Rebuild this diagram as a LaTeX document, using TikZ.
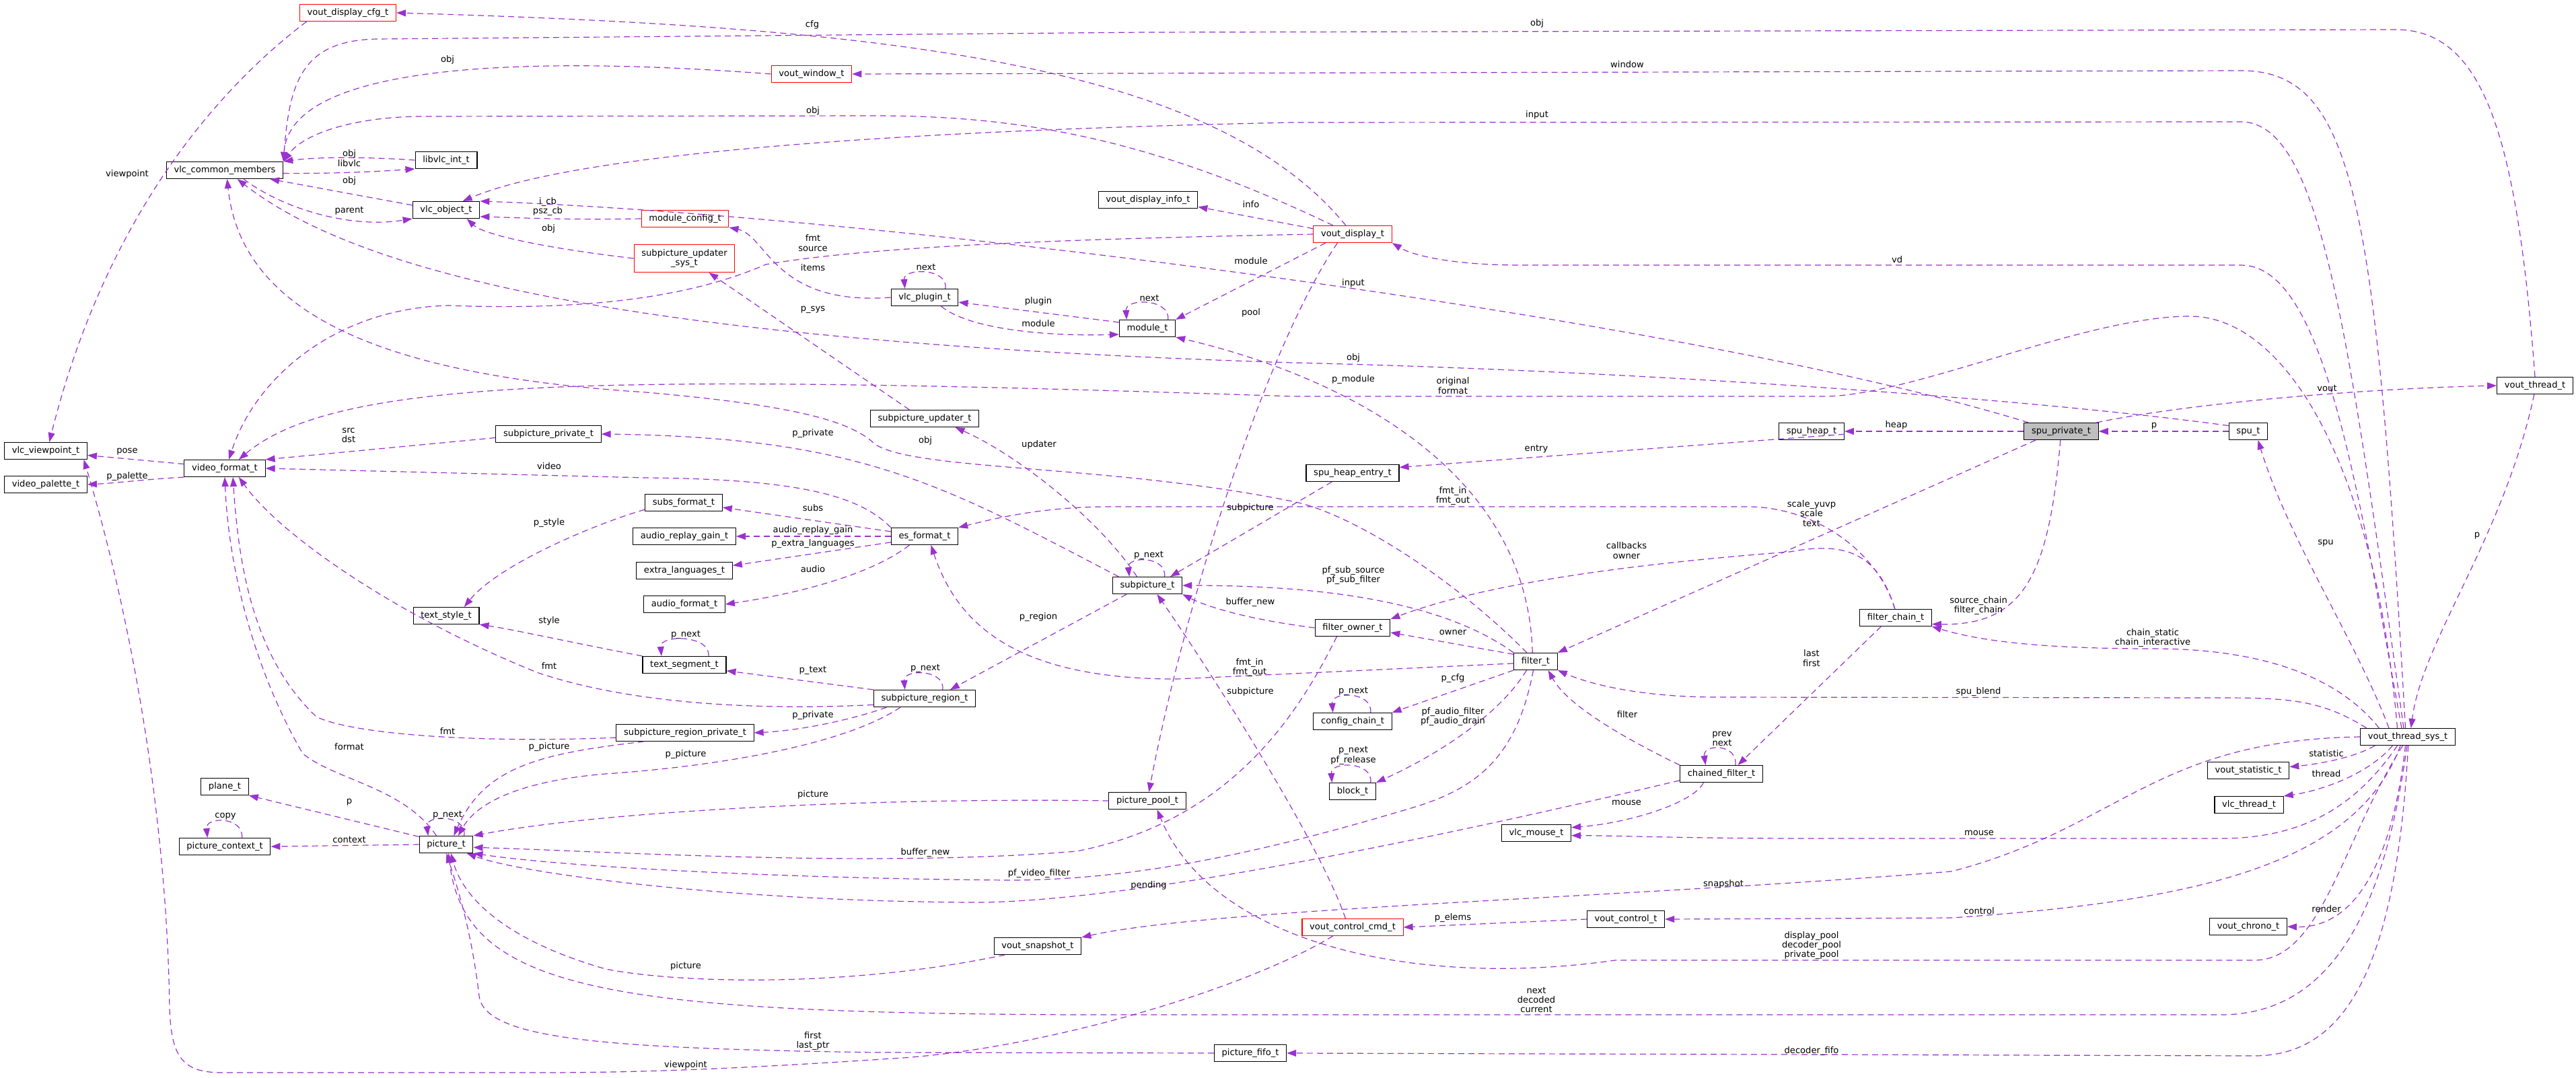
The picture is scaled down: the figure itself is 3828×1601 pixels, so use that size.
\documentclass[tikz,border=0pt]{standalone}
\usepackage{fontspec}
\setmainfont{DejaVu Sans}
\usetikzlibrary{arrows.meta}
\definecolor{dox-purple}{HTML}{9A32CD}
\definecolor{dox-grey}{HTML}{BFBFBF}
\newcommand{\doxfont}{\fontsize{6.55pt}{7.2pt}\selectfont}
\tikzset{
  dox-class/.style={draw=black, fill=white, line width=0.55pt, inner xsep=5.6pt, inner ysep=0pt,
    minimum height=12.5pt, align=center, font=\doxfont},
  dox-missing/.style={dox-class, draw=red},
  dox-focus/.style={dox-class, fill=dox-grey},
  dox-use/.style={draw=dox-purple, line width=0.6pt, dash pattern=on 4.5pt off 3pt,
    -{Triangle[length=7pt, width=5pt]}},
  dox-label/.style={font=\doxfont, align=center, inner sep=0pt}
}

\begin{document}
\begin{tikzpicture}[x=0.5pt, y=-0.5pt]
  \useasboundingbox (0,0) rectangle (3828,1601);

  % --- Classes ---
  \node[dox-missing] (vdcfg) at (517,19) {vout\_display\_cfg\_t};
  \node[dox-missing] (vwin) at (1206,110) {vout\_window\_t};
  \node[dox-class] (vcm) at (334,253) {vlc\_common\_members};
  \node[dox-class] (libvlc) at (663,238) {libvlc\_int\_t};
  \node[dox-class] (vobj) at (663,312) {vlc\_object\_t};
  \node[dox-missing] (mcfg) at (1018,325) {module\_config\_t};
  \node[dox-missing, minimum height=20.5pt] (upsys) at (1017,384) {subpicture\_updater\\\_sys\_t};
  \node[dox-class] (vdinfo) at (1706,297) {vout\_display\_info\_t};
  \node[dox-missing] (vdisp) at (2010,348) {vout\_display\_t};
  \node[dox-class] (plugin) at (1374,442) {vlc\_plugin\_t};
  \node[dox-class] (module) at (1705,488) {module\_t};
  \node[dox-class] (updater) at (1374,622) {subpicture\_updater\_t};
  \node[dox-class] (viewpt) at (68,670) {vlc\_viewpoint\_t};
  \node[dox-class] (palette) at (68,720) {video\_palette\_t};
  \node[dox-class] (vfmt) at (334,696) {video\_format\_t};
  \node[dox-class] (sppriv) at (815,645) {subpicture\_private\_t};
  \node[dox-class] (heap) at (2692,641) {spu\_heap\_t};
  \node[dox-focus] (spupriv) at (3063,641) {spu\_private\_t};
  \node[dox-class] (spu) at (3341,641) {spu\_t};
  \node[dox-class] (vthread) at (3767,573) {vout\_thread\_t};
  \node[dox-class] (heapent) at (2010,703) {spu\_heap\_entry\_t};
  \node[dox-class] (subsfmt) at (1016,747) {subs\_format\_t};
  \node[dox-class] (gain) at (1017,797) {audio\_replay\_gain\_t};
  \node[dox-class] (esfmt) at (1374,797) {es\_format\_t};
  \node[dox-class] (extra) at (1017,848) {extra\_languages\_t};
  \node[dox-class] (afmt) at (1017,898) {audio\_format\_t};
  \node[dox-class] (subpic) at (1705,870) {subpicture\_t};
  \node[dox-class] (tstyle) at (663,915) {text\_style\_t};
  \node[dox-class] (fchain) at (2817,918) {filter\_chain\_t};
  \node[dox-class] (fowner) at (2010,933) {filter\_owner\_t};
  \node[dox-class] (filter) at (2282,983) {filter\_t};
  \node[dox-class] (tseg) at (1017,988) {text\_segment\_t};
  \node[dox-class] (region) at (1374,1038) {subpicture\_region\_t};
  \node[dox-class] (regpriv) at (1018,1089) {subpicture\_region\_private\_t};
  \node[dox-class] (cchain) at (2010,1072) {config\_chain\_t};
  \node[dox-class] (plane) at (334,1169) {plane\_t};
  \node[dox-class] (block) at (2010,1176) {block\_t};
  \node[dox-class] (chained) at (2558,1150) {chained\_filter\_t};
  \node[dox-class] (vtsys) at (3578,1095) {vout\_thread\_sys\_t};
  \node[dox-class] (stat) at (3341,1145) {vout\_statistic\_t};
  \node[dox-class] (thr) at (3342,1196) {vlc\_thread\_t};
  \node[dox-class] (pctx) at (334,1258) {picture\_context\_t};
  \node[dox-class] (pic) at (663,1255) {picture\_t};
  \node[dox-class] (pool) at (1705,1190) {picture\_pool\_t};
  \node[dox-class] (mouse) at (2283,1238) {vlc\_mouse\_t};
  \node[dox-class] (vctl) at (2416,1366) {vout\_control\_t};
  \node[dox-missing] (vcmd) at (2010,1378) {vout\_control\_cmd\_t};
  \node[dox-class] (snap) at (1542,1406) {vout\_snapshot\_t};
  \node[dox-class] (chrono) at (3341,1377) {vout\_chrono\_t};
  \node[dox-class] (fifo) at (1858,1565) {picture\_fifo\_t};

  % --- vout_display_t ---
  \draw[dox-use] (vdisp.128) .. controls (1800,90) and (1300,40) .. (vdcfg.east);
  \draw[dox-use] (vdisp.156) .. controls (1700,200) and (1500,172) .. (1300,172) -- (620,173) .. controls (520,175) and (450,200) .. (vcm.north east);
  \draw[dox-use] (vdisp.172) -- (vdinfo.-8);
  \draw[dox-use] (vdisp.west) .. controls (1600,355) and (1300,365) .. (1138,393) .. controls (1030,440) and (880,462) .. (667,454) .. controls (500,458) and (380,560) .. (vfmt.65);
  \draw[dox-use] (vdisp.-162) -- (module.north east);
  \draw[dox-use] (vdisp.-150) .. controls (1880,520) and (1760,900) .. (pool.80);

  % --- vout_window_t, vout_thread_t ---
  \draw[dox-use] (vwin.west) .. controls (750,80) and (430,100) .. (vcm.north east);
  \draw[dox-use] (vthread.north) .. controls (3740,200) and (3690,44) .. (3560,44) -- (1700,48) -- (560,58) .. controls (450,60) and (430,120) .. (vcm.north east);
  \draw[dox-use] (vthread.-95) .. controls (3720,800) and (3600,950) .. (vtsys.70);

  % --- vlc_common_members, vlc_object_t ---
  \draw[dox-use] (libvlc.west) .. controls (560,234) and (480,232) .. (vcm.north east);
  \draw[dox-use] (vcm.-3) .. controls (500,258) and (560,255) .. (libvlc.south west);
  \draw[dox-use] (vobj.172) -- (vcm.-11);
  \draw[dox-use] (vcm.-25) .. controls (420,310) and (520,340) .. (vobj.south west);
  \draw[dox-use] (mcfg.west) .. controls (850,327) and (780,324) .. (vobj.-11);
  \draw[dox-use] (upsys.west) .. controls (820,370) and (720,350) .. (vobj.-23);
  \draw[dox-use] (vdcfg.-168) .. controls (300,150) and (150,350) .. (viewpt.68);

  % --- vlc_plugin_t, module_t ---
  \draw[dox-use] (plugin.west) .. controls (1150,455) and (1140,350) .. (mcfg.south east);
  \draw[dox-use] (plugin.23) .. controls (1410,398) and (1342,398) .. (plugin.156);
  \draw[dox-use] (module.23) .. controls (1739,443) and (1672,443) .. (module.157);
  \draw[dox-use] (module.168) -- (plugin.-8);
  \draw[dox-use] (plugin.-28) .. controls (1440,490) and (1560,500) .. (module.-168);

  % --- subpicture_t ---
  \draw[dox-use] (updater.150) -- (upsys.-30);
  \draw[dox-use] (subpic.163) .. controls (1400,720) and (1280,650) .. (sppriv.east);
  \draw[dox-use] (sppriv.-176) -- (vfmt.north east);
  \draw[dox-use] (subpic.140) .. controls (1640,780) and (1520,680) .. (updater.-16);
  \draw[dox-use] (subpic.-157) -- (region.19);
  \draw[dox-use] (subpic.27) .. controls (1734,826) and (1675,826) .. (subpic.154);
  \draw[dox-use] (heapent.-157) -- (subpic.21);

  % --- video_format_t ---
  \draw[dox-use] (vfmt.174) -- (viewpt.-6);
  \draw[dox-use] (vfmt.south west) .. controls (220,712) and (170,718) .. (palette.east);

  % --- es_format_t ---
  \draw[dox-use] (esfmt.north west) .. controls (1280,740) and (1200,712) .. (960,710) -- (vfmt.east);
  \draw[dox-use] (subsfmt.-170) .. controls (880,780) and (740,840) .. (tstyle.26);
  \draw[dox-use] (esfmt.172) -- (subsfmt.-7);
  \draw[dox-use] (esfmt.west) -- (gain.east);
  \draw[dox-use] (esfmt.-170) -- (extra.6);
  \draw[dox-use] (esfmt.-150) .. controls (1300,850) and (1200,880) .. (afmt.east);

  % --- text and regions ---
  \draw[dox-use] (tseg.20) .. controls (1056,943) and (980,943) .. (tseg.159);
  \draw[dox-use] (tseg.north west) .. controls (850,955) and (760,935) .. (tstyle.south east);
  \draw[dox-use] (region.north west) -- (tseg.-8);
  \draw[dox-use] (region.26) .. controls (1405,994) and (1342,994) .. (region.156);
  \draw[dox-use] (region.-173) .. controls (1150,1055) and (950,1050) .. (800,1000) .. controls (600,920) and (420,800) .. (vfmt.-32);
  \draw[dox-use] (regpriv.-176) .. controls (700,1105) and (520,1090) .. (470,1065) .. controls (380,980) and (355,850) .. (vfmt.-47);
  \draw[dox-use] (regpriv.-168) .. controls (800,1120) and (720,1140) .. (pic.49);
  \draw[dox-use] (region.-167) .. controls (1280,1065) and (1200,1085) .. (regpriv.east);
  \draw[dox-use] (region.-160) .. controls (1250,1110) and (1050,1140) .. (900,1150) .. controls (780,1160) and (710,1190) .. (pic.36);

  % --- picture_t ---
  \draw[dox-use] (pic.138) .. controls (600,1170) and (500,1160) .. (450,1120) .. controls (380,1000) and (340,850) .. (vfmt.-90);
  \draw[dox-use] (pic.164) -- (plane.south east);
  \draw[dox-use] (pic.26) .. controls (694,1210) and (632,1210) .. (pic.154);
  \draw[dox-use] (pctx.27) .. controls (362,1213) and (305,1213) .. (pctx.153);
  \draw[dox-use] (pic.west) -- (pctx.east);
  \draw[dox-use] (pool.west) .. controls (1300,1185) and (900,1205) .. (pic.north east);
  \draw[dox-use] (snap.-165) .. controls (1250,1470) and (1000,1460) .. (900,1440) .. controls (760,1400) and (690,1340) .. (pic.-62);
  \draw[dox-use] (fifo.west) -- (1300,1564) .. controls (900,1558) and (720,1545) .. (712,1480) .. controls (700,1380) and (680,1320) .. (pic.-88);

  % --- spu_private_t, spu_t ---
  \draw[dox-use] (spupriv.165) .. controls (2500,470) and (1300,320) .. (vobj.north east);
  \draw[dox-use] (spu.164) .. controls (3000,590) and (2400,550) .. (1920,539) .. controls (1000,510) and (550,420) .. (vcm.-35);
  \draw[dox-use] (spupriv.west) -- (heap.east);
  \draw[dox-use] (spu.west) -- (spupriv.east);
  \draw[dox-use] (spupriv.14) .. controls (3250,600) and (3500,578) .. (vthread.west);
  \draw[dox-use] (spupriv.-161) -- (filter.north east);
  \draw[dox-use] (spupriv.-95) .. controls (3045,850) and (3010,930) .. (fchain.-10);
  \draw[dox-use] (heap.-5) -- (heapent.7);

  % --- filter_t, filter_chain_t ---
  \draw[dox-use] (filter.110) .. controls (2270,700) and (2000,560) .. (module.south east);
  \draw[dox-use] (filter.135) .. controls (2150,850) and (2000,760) .. (1920,745) .. controls (1650,690) and (1360,700) .. (1300,660) .. controls (1260,620) and (1150,600) .. (960,583) .. controls (600,560) and (360,480) .. (vcm.-75);
  \draw[dox-use] (fchain.95) .. controls (2790,820) and (2700,755) .. (2600,753) -- (1650,753) .. controls (1550,753) and (1480,770) .. (esfmt.north east);
  \draw[dox-use] (filter.-175) -- (1750,1009) .. controls (1500,1010) and (1420,920) .. (esfmt.-54);
  \draw[dox-use] (fchain.95) .. controls (2790,820) and (2740,805) .. (2660,820) .. controls (2400,840) and (2200,870) .. (fowner.north east);
  \draw[dox-use] (filter.north west) .. controls (2180,920) and (2050,870) .. (subpic.east);
  \draw[dox-use] (filter.162) -- (fowner.-7);
  \draw[dox-use] (fowner.west) .. controls (1850,920) and (1790,900) .. (subpic.south east);
  \draw[dox-use] (vcmd.129) .. controls (1960,1250) and (1800,1000) .. (subpic.-42);
  \draw[dox-use] (filter.south west) -- (cchain.north east);
  \draw[dox-use] (cchain.26) .. controls (2040,1027) and (1978,1027) .. (cchain.156);
  \draw[dox-use] (fchain.-149) -- (chained.28);
  \draw[dox-use] (filter.-136) .. controls (2230,1060) and (2140,1120) .. (block.north east);
  \draw[dox-use] (chained.north west) .. controls (2420,1100) and (2330,1050) .. (filter.-35);
  \draw[dox-use] (chained.32) .. controls (2583,1105) and (2530,1105) .. (chained.151);
  \draw[dox-use] (block.26) .. controls (2041,1131) and (1977,1131) .. (block.157);
  \draw[dox-use] (fowner.-151) .. controls (1930,1060) and (1830,1220) .. (1600,1265) .. controls (1300,1290) and (900,1265) .. (pic.-6);
  \draw[dox-use] (filter.-105) .. controls (2255,1120) and (2200,1170) .. (2100,1200) .. controls (1900,1260) and (1700,1308) .. (1500,1308) .. controls (1200,1306) and (850,1290) .. (pic.south east);
  \draw[dox-use] (chained.-171) .. controls (2200,1230) and (1700,1340) .. (1450,1341) .. controls (1100,1340) and (780,1300) .. (pic.-23);
  \draw[dox-use] (chained.-154) .. controls (2520,1190) and (2430,1222) .. (mouse.9);
  \draw[dox-use] (vctl.west) -- (vcmd.east);
  \draw[dox-use] (vcmd.-156) .. controls (1850,1470) and (1550,1560) .. (1327,1573) .. controls (1100,1588) and (960,1594) .. (800,1594) -- (330,1594) .. controls (270,1594) and (255,1570) .. (252,1500) .. controls (248,1200) and (190,900) .. (viewpt.-13);

  % --- vout_thread_sys_t ---
  \draw[dox-use] (vtsys.105) .. controls (3530,300) and (3500,105) .. (3330,105) -- (vwin.east);
  \draw[dox-use] (vtsys.115) .. controls (3490,500) and (3450,181) .. (3330,181) -- (1920,182) .. controls (1300,195) and (850,230) .. (vobj.28);
  \draw[dox-use] (vtsys.125) .. controls (3500,700) and (3450,394) .. (3330,394) -- (2260,394) .. controls (2160,394) and (2100,380) .. (vdisp.south east);
  \draw[dox-use] (vtsys.140) .. controls (3530,700) and (3400,470) .. (3254,470) .. controls (3100,470) and (2850,585) .. (2716,589) -- (1920,589) .. controls (900,555) and (500,560) .. (vfmt.32);
  \draw[dox-use] (vtsys.155) .. controls (3500,950) and (3400,800) .. (spu.-42);
  \draw[dox-use] (vtsys.168) .. controls (3450,1040) and (3400,1037) .. (3300,1037) -- (2550,1036) .. controls (2450,1036) and (2370,1020) .. (filter.south east);
  \draw[dox-use] (vtsys.163) .. controls (3470,1000) and (3350,964) .. (3200,964) .. controls (3050,964) and (2950,955) .. (fchain.south east);
  \draw[dox-use] (vtsys.west) .. controls (3200,1100) and (3150,1230) .. (2900,1295) .. controls (2400,1335) and (1800,1350) .. (snap.north east);
  \draw[dox-use] (vtsys.-130) .. controls (3500,1290) and (3250,1340) .. (2900,1364) -- (vctl.east);
  \draw[dox-use] (vtsys.-120) .. controls (3480,1250) and (3450,1427) .. (3350,1427) -- (2400,1427) .. controls (2100,1470) and (1800,1400) .. (pool.-42);
  \draw[dox-use] (vtsys.-95) .. controls (3540,1380) and (3450,1508) .. (3300,1508) -- (1600,1508) .. controls (900,1505) and (690,1470) .. (pic.-75);
  \draw[dox-use] (vtsys.-87) .. controls (3560,1450) and (3480,1569) .. (3350,1569) -- (fifo.east);
  \draw[dox-use] (vtsys.-140) .. controls (3500,1200) and (3420,1246) .. (3300,1246) -- (2700,1246) .. controls (2500,1246) and (2420,1242) .. (mouse.-4);
  \draw[dox-use] (vtsys.-165) .. controls (3500,1125) and (3450,1135) .. (stat.5);
  \draw[dox-use] (vtsys.-150) .. controls (3520,1150) and (3450,1175) .. (thr.north east);
  \draw[dox-use] (vtsys.-105) .. controls (3555,1280) and (3500,1380) .. (chrono.east);

  % --- Edge labels ---
  \node[dox-label] (l-cfg) at (1207,37) {cfg};
  \node[dox-label] (l-winobj) at (665,89) {obj};
  \node[dox-label] (l-threadobj) at (2284,35) {obj};
  \node[dox-label] (l-window) at (2418,96) {window};
  \node[dox-label] (l-dispobj) at (1208,165) {obj};
  \node[dox-label] (l-sysinput) at (2284,171) {input};
  \node[dox-label] (l-libvlc) at (519,235) {obj\\libvlc};
  \node[dox-label] (l-objobj) at (519,269) {obj};
  \node[dox-label] (l-parent) at (519,313) {parent};
  \node[dox-label] (l-icb) at (814,307) {i\_cb\\psz\_cb};
  \node[dox-label] (l-upsysobj) at (815,340) {obj};
  \node[dox-label] (l-cfgview) at (189,259) {viewpoint};
  \node[dox-label] (l-info) at (1859,304) {info};
  \node[dox-label] (l-fmtsrc) at (1208,361) {fmt\\source};
  \node[dox-label] (l-items) at (1208,398) {items};
  \node[dox-label] (l-plugnext) at (1376,397) {next};
  \node[dox-label] (l-dispmod) at (1859,388) {module};
  \node[dox-label] (l-psys) at (1208,460) {p\_sys};
  \node[dox-label] (l-modnext) at (1708,443) {next};
  \node[dox-label] (l-plugin) at (1543,448) {plugin};
  \node[dox-label] (l-plugmod) at (1543,481) {module};
  \node[dox-label] (l-pool) at (1859,465) {pool};
  \node[dox-label] (l-privinput) at (2011,421) {input};
  \node[dox-label] (l-spuobj) at (2011,532) {obj};
  \node[dox-label] (l-vd) at (2819,386) {vd};
  \node[dox-label] (l-pmodule) at (2011,564) {p\_module};
  \node[dox-label] (l-original) at (2159,573) {original\\format};
  \node[dox-label] (l-heap) at (2818,632) {heap};
  \node[dox-label] (l-spup) at (3201,633) {p};
  \node[dox-label] (l-vout) at (3458,577) {vout};
  \node[dox-label] (l-threadp) at (3681,796) {p};
  \node[dox-label] (l-spu) at (3456,807) {spu};
  \node[dox-label] (l-subprivate) at (1208,644) {p\_private};
  \node[dox-label] (l-srcdst) at (518,647) {src\\dst};
  \node[dox-label] (l-pose) at (189,671) {pose};
  \node[dox-label] (l-updater) at (1544,661) {updater};
  \node[dox-label] (l-filterobj) at (1375,655) {obj};
  \node[dox-label] (l-video) at (816,693) {video};
  \node[dox-label] (l-entry) at (2283,667) {entry};
  \node[dox-label] (l-chainfmt) at (2159,737) {fmt\_in\\fmt\_out};
  \node[dox-label] (l-scale) at (2692,763) {scale\_yuvp\\scale\\text};
  \node[dox-label] (l-entrysub) at (1858,755) {subpicture};
  \node[dox-label] (l-pstyle) at (816,777) {p\_style};
  \node[dox-label] (l-subs) at (1208,755) {subs};
  \node[dox-label] (l-gain) at (1208,788) {audio\_replay\_gain};
  \node[dox-label] (l-extra) at (1208,808) {p\_extra\_languages};
  \node[dox-label] (l-audio) at (1208,846) {audio};
  \node[dox-label] (l-callbacks) at (2417,818) {callbacks\\owner};
  \node[dox-label] (l-pfsub) at (2011,855) {pf\_sub\_source\\pf\_sub\_filter};
  \node[dox-label] (l-owner) at (2159,940) {owner};
  \node[dox-label] (l-subbuf) at (1858,895) {buffer\_new};
  \node[dox-label] (l-pregion) at (1543,917) {p\_region};
  \node[dox-label] (l-subnext) at (1707,825) {p\_next};
  \node[dox-label] (l-segnext) at (1019,943) {p\_next};
  \node[dox-label] (l-style) at (816,923) {style};
  \node[dox-label] (l-ptext) at (1208,996) {p\_text};
  \node[dox-label] (l-regnext) at (1375,993) {p\_next};
  \node[dox-label] (l-regfmt) at (816,990) {fmt};
  \node[dox-label] (l-filterfmt) at (1857,992) {fmt\_in\\fmt\_out};
  \node[dox-label] (l-cmdsub) at (1858,1028) {subpicture};
  \node[dox-label] (l-pcfg) at (2159,1008) {p\_cfg};
  \node[dox-label] (l-cfgnext) at (2011,1027) {p\_next};
  \node[dox-label] (l-lastfirst) at (2692,978) {last\\first};
  \node[dox-label] (l-pfaudio) at (2159,1065) {pf\_audio\_filter\\pf\_audio\_drain};
  \node[dox-label] (l-filter) at (2418,1062) {filter};
  \node[dox-label] (l-spublend) at (2940,1028) {spu\_blend};
  \node[dox-label] (l-chainstatic) at (3199,948) {chain\_static\\chain\_interactive};
  \node[dox-label] (l-sourcechain) at (2940,900) {source\_chain\\filter\_chain};
  \node[dox-label] (l-prevnext) at (2559,1098) {prev\\next};
  \node[dox-label] (l-blocknext) at (2011,1123) {p\_next\\pf\_release};
  \node[dox-label] (l-format) at (519,1110) {format};
  \node[dox-label] (l-privfmt) at (665,1087) {fmt};
  \node[dox-label] (l-privpic) at (816,1110) {p\_picture};
  \node[dox-label] (l-regprivate) at (1208,1063) {p\_private};
  \node[dox-label] (l-regpic) at (1019,1121) {p\_picture};
  \node[dox-label] (l-plane) at (519,1192) {p};
  \node[dox-label] (l-picnext) at (665,1211) {p\_next};
  \node[dox-label] (l-copy) at (335,1213) {copy};
  \node[dox-label] (l-context) at (519,1248) {context};
  \node[dox-label] (l-poolpic) at (1208,1181) {picture};
  \node[dox-label] (l-picbuf) at (1375,1267) {buffer\_new};
  \node[dox-label] (l-videofilter) at (1544,1298) {pf\_video\_filter};
  \node[dox-label] (l-pending) at (1707,1316) {pending};
  \node[dox-label] (l-snapshot) at (2561,1314) {snapshot};
  \node[dox-label] (l-pelems) at (2159,1364) {p\_elems};
  \node[dox-label] (l-control) at (2941,1354) {control};
  \node[dox-label] (l-pools) at (2692,1405) {display\_pool\\decoder\_pool\\private\_pool};
  \node[dox-label] (l-snappic) at (1019,1436) {picture};
  \node[dox-label] (l-decoded) at (2283,1486) {next\\decoded\\current};
  \node[dox-label] (l-fifofirst) at (1208,1547) {first\\last\_ptr};
  \node[dox-label] (l-cmdview) at (1019,1583) {viewpoint};
  \node[dox-label] (l-decfifo) at (2692,1562) {decoder\_fifo};
  \node[dox-label] (l-chainmouse) at (2417,1193) {mouse};
  \node[dox-label] (l-sysmouse) at (2941,1238) {mouse};
  \node[dox-label] (l-statistic) at (3457,1120) {statistic};
  \node[dox-label] (l-thread) at (3457,1150) {thread};
  \node[dox-label] (l-render) at (3457,1351) {render};
  \node[dox-label] (l-palette) at (189,708) {p\_palette};
\end{tikzpicture}
\end{document}
